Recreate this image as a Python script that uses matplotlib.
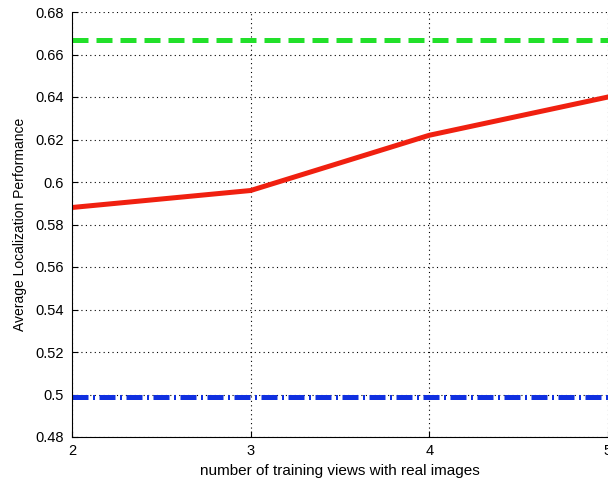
import matplotlib
matplotlib.use("Agg")
import matplotlib.pyplot as plt

plt.rcParams['font.family'] = ['Liberation Sans', 'DejaVu Sans']

views = [2, 3, 4, 5]
perf_real = [0.588, 0.596, 0.622, 0.640]
upper_ref = [0.667, 0.667, 0.667, 0.667]
lower_ref = [0.499, 0.499, 0.499, 0.499]

fig = plt.figure(figsize=(6.08, 4.82), dpi=100)
ax = fig.add_axes([72/608, 45/482, 536/608, 425/482])

ax.plot(views, upper_ref, color='#22e02a', lw=3.6, ls=(0, (3.2, 1.6)), solid_capstyle='butt')
ax.plot(views, lower_ref, color='#1030e0', lw=3.6, ls=(0, (3.2, 0.9, 0.4, 0.9)))
ax.plot(views, perf_real, color='#f02010', lw=3.6)

ax.set_xlim(2, 5)
ax.set_ylim(0.48, 0.68)
ax.set_xticks(views)
ax.set_yticks([0.48, 0.5, 0.52, 0.54, 0.56, 0.58, 0.6, 0.62, 0.64, 0.66, 0.68])
ax.set_yticklabels(['0.48', '0.5', '0.52', '0.54', '0.56', '0.58', '0.6', '0.62', '0.64', '0.66', '0.68'])
ax.grid(True, color='black', ls=(0, (1, 3)), lw=0.8)
ax.tick_params(direction='in', labelsize=10.5, length=4)
ax.tick_params(axis='y', pad=6)
ax.tick_params(axis='x', pad=5)
for s in ['top', 'right']:
    ax.spines[s].set_visible(False)

ax.set_xlabel('number of training views with real images', fontsize=11, labelpad=4)
ax.set_ylabel('Average Localization Performance', fontsize=10, labelpad=6)

fig.savefig('out.png', dpi=100)
